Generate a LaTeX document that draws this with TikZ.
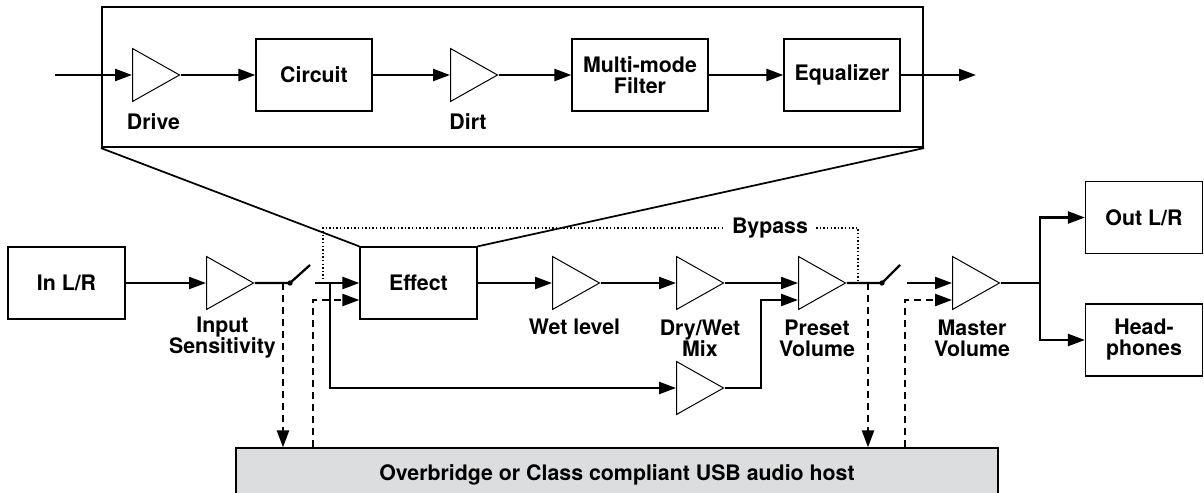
\documentclass[tikz,border=0pt]{standalone}
\usepackage{fontspec}
\setmainfont{TeX Gyre Heros}
\usetikzlibrary{arrows.meta,shapes.geometric}

\definecolor{hostgray}{RGB}{220,221,223}
\newcommand{\lblfont}{\bfseries\fontsize{16}{15.75}\selectfont}

\tikzset{
  blk/.style={draw, line width=0.9pt, minimum width=87.75pt, minimum height=54pt, inner sep=0pt, align=center, font=\lblfont},
  amp/.style={draw, line width=0.75pt, isosceles triangle, isosceles triangle stretches, minimum width=39.75pt, minimum height=35.25pt, inner sep=0pt, anchor=west},
  lbl/.style={align=center, font=\lblfont, inner sep=0pt},
  wire/.style={line width=1.7pt},
  sig/.style={wire, -{Triangle[length=12.75pt, width=9pt]}},
  dsh/.style={line width=1.7pt, dash pattern=on 5.25pt off 3.75pt, -{Triangle[length=12.75pt, width=9pt]}},
  dot/.style={line width=1.5pt, dash pattern=on 1.1pt off 1.6pt},
}

\begin{document}
\begin{tikzpicture}[x=0.75pt, y=-0.75pt]
        \clip (0, 0) rectangle (1204, 493);

        % inside the effect
        \node[draw, line width=1.6pt, minimum width=615.75pt, minimum height=105pt] (fxbox) at (512.5, 77) {};
        \coordinate (fxin) at (55, 75);
        \coordinate (fxout) at (976, 75);
        \node[amp] (drive) at (132, 75) {};
        \node[lbl] (drivelbl) at (153.5, 122) {Drive};
        \node[blk, minimum width=87pt] (circuit) at (314, 75) {Circuit};
        \node[amp] (dirt) at (450, 75) {};
        \node[lbl] (dirtlbl) at (468, 122) {Dirt};
        \node[blk, minimum width=102pt] (filter) at (640, 75) {Multi-mode\\Filter};
        \node[blk, minimum width=87pt] (eq) at (842, 75) {Equalizer};

        \draw[sig] (fxin) -- (drive.west);
        \draw[sig] (drive.east) -- (circuit.west);
        \draw[sig] (circuit.east) -- (dirt.west);
        \draw[sig] (dirt.east) -- (filter.west);
        \draw[sig] (filter.east) -- (eq.west);
        \draw[sig] (eq.east) -- (fxout);

        % main signal path
        \node[blk] (inlr) at (66.5, 283) {In L/R};
        \node[amp] (insens) at (206, 283) {};
        \node[lbl] (insenslbl) at (222.5, 338) {Input\\Sensitivity};
        \coordinate (sw1) at (290, 283);
        \coordinate (sw1b) at (310, 265);
        \coordinate (sw1o) at (315, 283);
        \node[blk] (effect) at (418.5, 283) {Effect};
        \node[amp] (wet) at (552, 283) {};
        \node[lbl] (wetlbl) at (574.5, 327) {Wet level};
        \node[amp] (mix) at (676, 283) {};
        \node[lbl] (mixlbl) at (700, 338) {Dry/Wet\\Mix};
        \node[amp] (dry) at (676, 388) {};
        \node[amp] (preset) at (798, 283) {};
        \node[lbl] (presetlbl) at (817, 338) {Preset\\Volume};
        \coordinate (sw2) at (882, 283);
        \coordinate (sw2b) at (900, 265);
        \coordinate (sw2o) at (907, 283);
        \node[amp] (master) at (952, 283) {};
        \node[lbl] (masterlbl) at (972, 338) {Master\\Volume};
        \coordinate (split) at (1040, 283);
        \node[blk] (outlr) at (1144, 217.5) {Out L/R};
        \node[blk] (phones) at (1144, 340) {Head-\\phones};
        \node[draw, fill=hostgray, line width=0.9pt, minimum width=571.5pt, minimum height=39.75pt, font=\lblfont] (host) at (617, 474.5) {Overbridge or Class compliant USB audio host};

        \draw[line width=1.3pt] (fxbox.south west) -- (effect.north west);
        \draw[line width=1.3pt] (fxbox.south east) -- (effect.north east);

        \draw[sig] (inlr.east) -- (insens.west);
        \draw[wire] (insens.east) -- (sw1) -- (sw1b);
        \fill (sw1) circle (2pt);
        \draw[sig] (sw1o) -- (effect.west);
        \coordinate (dryj) at (330, 283);
        \draw[sig] (dryj) |- (dry.west);
        \draw[sig] (effect.east) -- (wet.west);
        \draw[sig] (wet.east) -- (mix.west);
        \draw[sig] (mix.east) -- (preset.west);
        \coordinate (dryk) at (761, 300);
        \draw[sig] (dry.east) -| (dryk) -- (dryk -| preset.west);
        \draw[wire] (preset.east) -- (sw2) -- (sw2b);
        \fill (sw2) circle (2pt);
        \draw[sig] (sw2o) -- (master.west);
        \draw[wire] (master.east) -- (split);
        \draw[sig] (split) |- (outlr.west);
        \draw[sig] (split) |- (phones.west);

        % bypass
        \node[lbl, inner sep=6pt] (bypass) at (770, 228) {Bypass};
        \coordinate (byin) at (323, 283);
        \coordinate (byout) at (858, 283);
        \draw[dot] (byin) |- (bypass.west);
        \draw[dot] (bypass.east) -| (byout);

        % usb send and return
        \coordinate (send1) at (283, 283);
        \coordinate (ret1) at (313, 300);
        \coordinate (send2) at (868, 283);
        \coordinate (ret2) at (905, 300);
        \draw[dsh] (send1) -- (send1 |- host.north);
        \draw[dsh] (host.north -| ret1) -- (ret1) -- (ret1 -| effect.west);
        \draw[dsh] (send2) -- (send2 |- host.north);
        \draw[dsh] (host.north -| ret2) -- (ret2) -- (ret2 -| master.west);

\end{tikzpicture}
\end{document}
